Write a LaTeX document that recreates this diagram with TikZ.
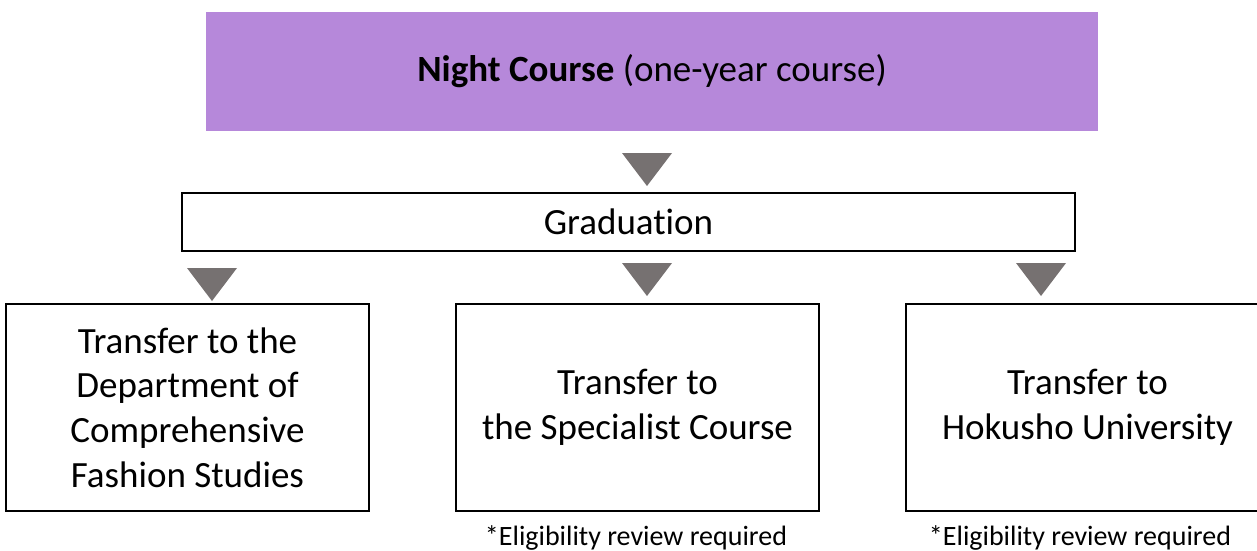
\documentclass[tikz,border=0pt]{standalone}
\usepackage{fontspec}
\setmainfont{Carlito}[Ligatures=NoCommon]
\usetikzlibrary{positioning}

\definecolor{nightpurple}{RGB}{182,136,218}
\definecolor{trigray}{RGB}{118,113,113}

\begin{document}
\begin{tikzpicture}[
    x=1pt, y=-1pt,
    head/.style={fill=nightpurple, draw=none, text centered,
    font=\fontsize{37}{44}\selectfont,
    minimum width=892pt, minimum height=119pt},
    stage/.style={draw, line width=2pt, text centered,
    font=\fontsize{37}{44}\selectfont,
    minimum width=893pt, minimum height=58pt},
    dest/.style={draw, line width=2pt, align=center,
    font=\fontsize{37}{44.7}\selectfont,
    minimum width=363pt, minimum height=207pt},
    note/.style={inner sep=0pt, font=\fontsize{28}{32}\selectfont},
    tri/.style={fill=trigray}
    ]
    \useasboundingbox (0,0) rectangle (1257,550);

    \node[head]   (night)  at (652,71.5)    {\textbf{Night Course} (one-year course)};
    \node[stage]  (grad)   at (628.5,222)   {Graduation};

    \node[dest]   (spec)   at (637.5,407.5) {Transfer to\\the Specialist Course};
    \node[dest]   (dept)   [left=85pt of spec]  {Transfer to the\\Department of\\Comprehensive\\Fashion Studies};
    \node[dest]   (hoku)   [right=85pt of spec] {Transfer to\\Hokusho University};

    \node[note, anchor=base] (specnote) at (636,545)  {*Eligibility review required};
    \node[note, anchor=base] (hokunote) at (1080,545) {*Eligibility review required};

    % flow marks
    \foreach \x/\y in {647/153, 212/268, 647/263, 1041/263}
      \fill[tri] (\x-25,\y) -- (\x+25,\y) -- (\x,\y+33) -- cycle;
\end{tikzpicture}
\end{document}
